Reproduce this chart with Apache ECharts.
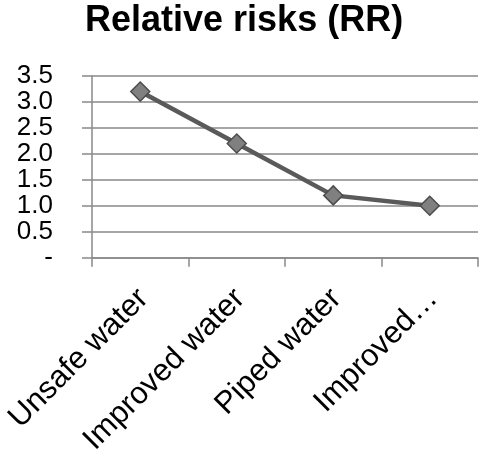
<!DOCTYPE html>
<html>
<head>
<meta charset="utf-8">
<script src="https://cdn.jsdelivr.net/npm/echarts@6/dist/echarts.min.js"></script>
<style>
  html, body { margin: 0; padding: 0; background: #fff; }
  #chart { width: 481px; height: 458px; }
</style>
</head>
<body>
<div id="chart"></div>
<script>
// Relative risk by drinking-water source
const categories = ['Unsafe water', 'Improved water', 'Piped water', 'Improved…'];
const relativeRisk = [3.2, 2.2, 1.2, 1.0];
const yTicks = [0, 0.5, 1.0, 1.5, 2.0, 2.5, 3.0, 3.5];

const chart = echarts.init(document.getElementById('chart'), null, { renderer: 'canvas' });

const font = 'Arial, "Liberation Sans", sans-serif';
const gridColor = '#898989';

chart.setOption({
  animation: false,
  backgroundColor: '#ffffff',
  title: {
    text: 'Relative risks (RR)',
    left: 85,
    top: 3,
    padding: 0,
    textStyle: { fontFamily: font, fontSize: 36, fontWeight: 'bold', color: '#000' }
  },
  grid: { left: 92, right: 3, top: 76, bottom: 198, containLabel: false },
  xAxis: {
    type: 'category',
    data: categories,
    boundaryGap: true,
    axisLine: { lineStyle: { color: gridColor, width: 1.5 } },
    axisTick: { show: true, length: 9, alignWithLabel: false, lineStyle: { color: gridColor, width: 1.5 } },
    axisLabel: {
      rotate: 45, margin: 33, interval: 0,
      align: 'right', verticalAlign: 'top', lineHeight: 9,
      fontFamily: font, fontSize: 31, color: '#000'
    },
    splitLine: { show: false }
  },
  yAxis: {
    type: 'value',
    min: yTicks[0],
    max: yTicks[yTicks.length - 1],
    interval: 0.5,
    axisLine: { show: true, lineStyle: { color: gridColor, width: 1.5 } },
    axisTick: { show: true, length: 10, lineStyle: { color: gridColor, width: 1.5 } },
    axisLabel: {
      margin: 39,
      fontFamily: font,
      fontSize: 26,
      color: '#000',
      formatter: v => (v === 0 ? '-' : v.toFixed(1))
    },
    splitLine: { show: true, lineStyle: { color: gridColor, width: 1.5 } }
  },
  series: [{
    type: 'line',
    data: relativeRisk,
    symbol: 'diamond',
    symbolSize: 19,
    lineStyle: { color: '#5a5a5a', width: 4.5 },
    itemStyle: { color: '#808080', borderColor: '#4d4d4d', borderWidth: 1.5 }
  }]
});
</script>
</body>
</html>
